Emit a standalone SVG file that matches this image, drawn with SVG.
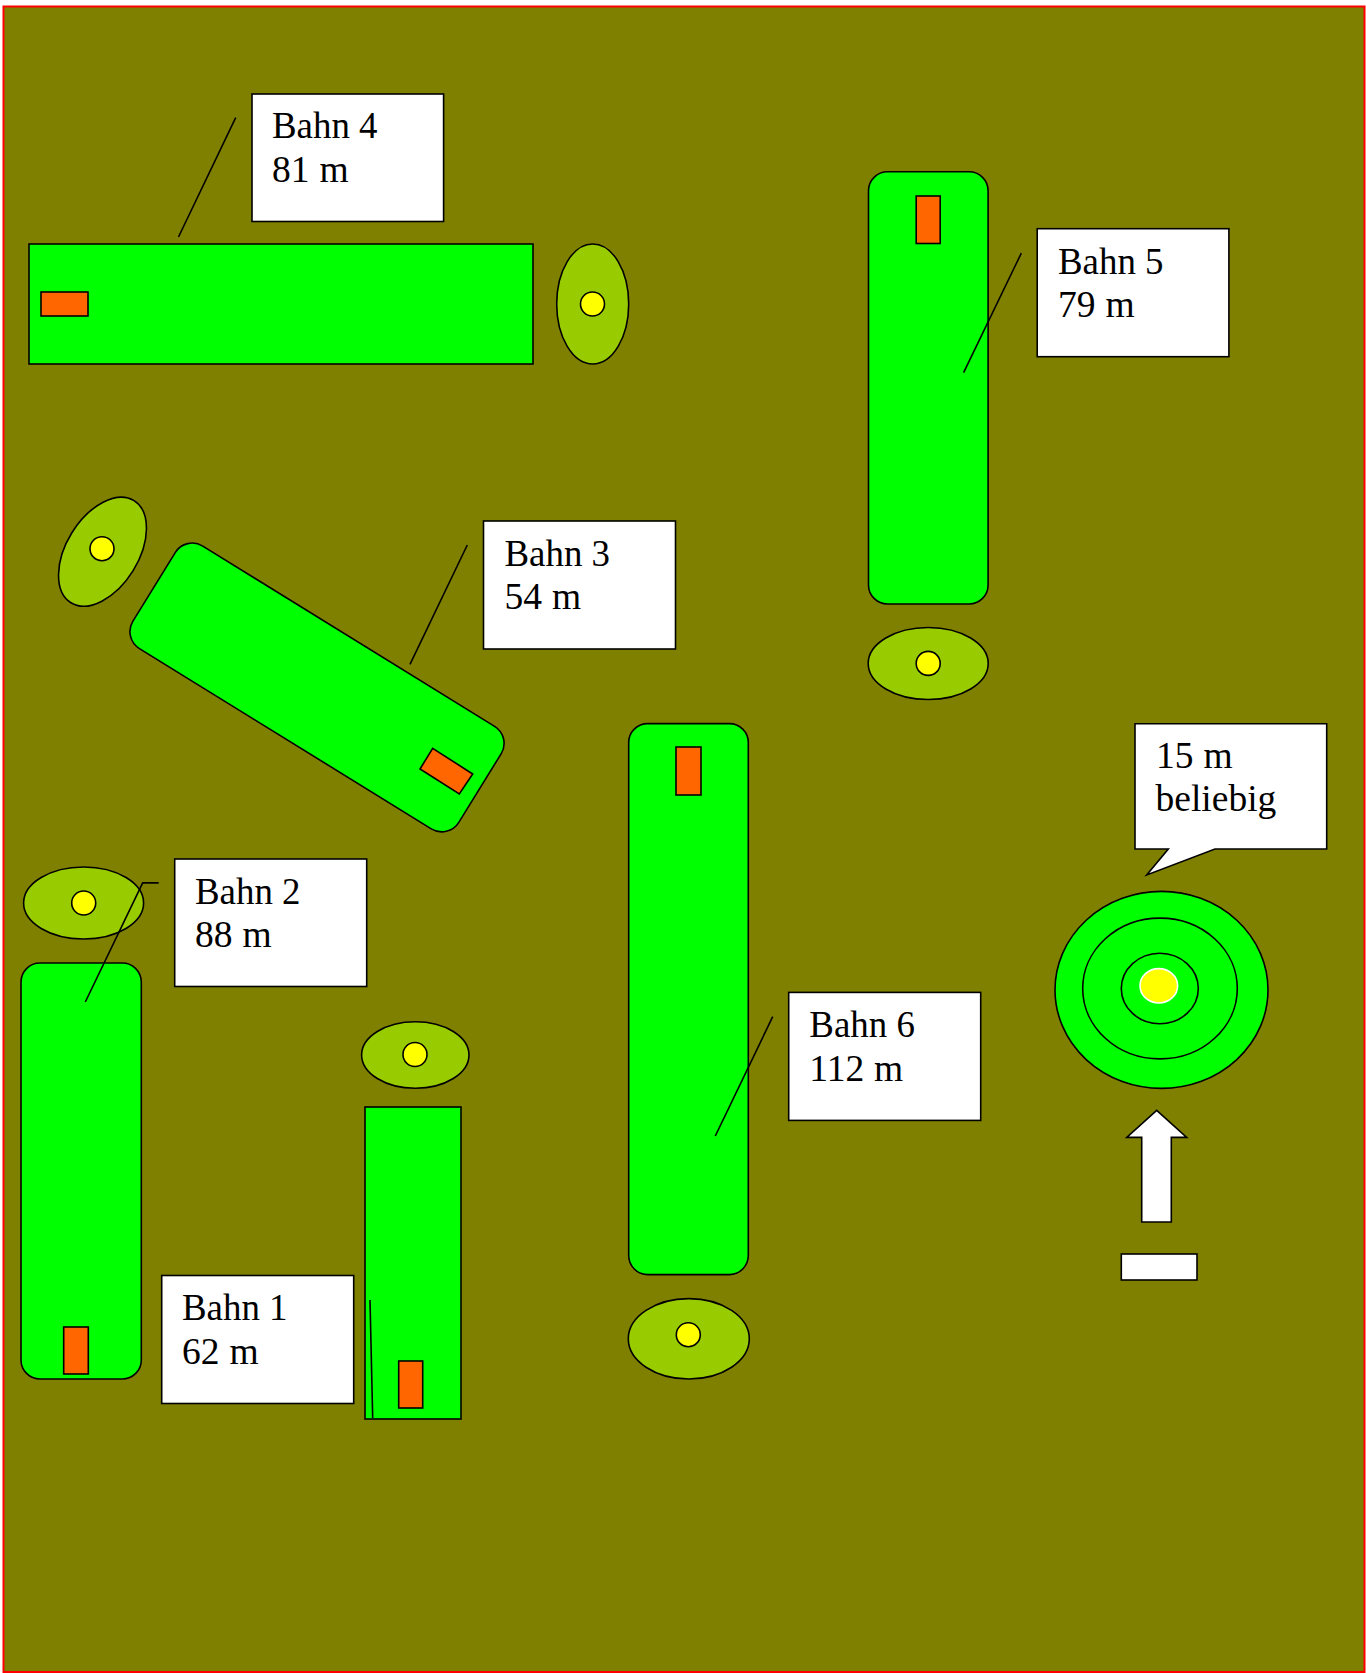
<svg xmlns="http://www.w3.org/2000/svg" width="1366" height="1673" viewBox="0 0 1366 1673">
<style>
.s{stroke:#000;stroke-width:1.6}
.g{fill:#0f0}.o{fill:#f60}.e{fill:#9c0}.y{fill:#ff0}.w{fill:#fff}
.l{fill:none;stroke:#000;stroke-width:1.6}
text{font-family:"Liberation Serif","Times New Roman",serif;font-size:37.5px;word-spacing:0.5px;fill:#000}
text.b{font-size:36.9px;word-spacing:0}
</style>
<rect width="1366" height="1673" fill="#fff"/>
<rect x="3.5" y="6.5" width="1361" height="1665.5" fill="#808000" stroke="#f00" stroke-width="2"/>
<g id="bahn4">
<rect class="s g" x="29" y="244" width="504" height="120"/>
<rect class="s o" x="41" y="292" width="47" height="24"/>
<ellipse class="s e" cx="592.7" cy="304" rx="36" ry="60"/>
<circle class="s y" cx="592.5" cy="304" r="12"/>
</g>
<g id="bahn5">
<rect class="s g" x="868.5" y="171.8" width="119.6" height="432.2" rx="19"/>
<rect class="s o" x="916.2" y="196" width="24" height="47.5"/>
<ellipse class="s e" cx="928.2" cy="663.5" rx="60" ry="36"/>
<circle class="s y" cx="928.2" cy="663.4" r="12"/>
</g>
<g id="bahn3">
<rect class="s g" x="125.5" y="627.2" width="383" height="120.5" rx="20" transform="rotate(31.7 317 687.5)"/>
<polygon class="s o" points="432.7,748.3 472.7,774 459.3,794 420,769"/>
<ellipse class="s e" cx="102.5" cy="551.7" rx="36" ry="60" transform="rotate(31.7 102.5 551.7)"/>
<circle class="s y" cx="102" cy="548.7" r="12"/>
</g>
<g id="bahn6">
<rect class="s g" x="628.7" y="723.6" width="119.6" height="551" rx="19"/>
<rect class="s o" x="676" y="747" width="25" height="48"/>
<ellipse class="s e" cx="688.8" cy="1338.8" rx="60.5" ry="40.2"/>
<circle class="s y" cx="688.3" cy="1334.7" r="12"/>
</g>
<g id="bahn2">
<rect class="s g" x="21" y="963" width="120.3" height="416" rx="19"/>
<rect class="s o" x="63.7" y="1327" width="24.6" height="47"/>
<ellipse class="s e" cx="83.6" cy="903" rx="60" ry="36"/>
<circle class="s y" cx="83.7" cy="903" r="12"/>
</g>
<g id="bahn1">
<rect class="s g" x="365" y="1107" width="96" height="312"/>
<rect class="s o" x="398.7" y="1361" width="24" height="47"/>
<ellipse class="s e" cx="415.3" cy="1055" rx="53.7" ry="33.3"/>
<circle class="s y" cx="415" cy="1054.5" r="12"/>
</g>
<g id="target">
<ellipse class="s g" cx="1161.5" cy="989.9" rx="106.5" ry="98.5"/>
<ellipse class="s g" cx="1160" cy="988.5" rx="77.3" ry="70.4"/>
<ellipse class="s g" cx="1159.8" cy="988.5" rx="38.5" ry="35.3"/>
<ellipse class="y" cx="1158.8" cy="985.8" rx="18.8" ry="17.2" stroke="#fff" stroke-width="1.6"/>
</g>
<g id="abschuss">
<polygon class="s w" points="1156.7,1110.3 1186.7,1137.4 1171.3,1137.4 1171.3,1222 1141.7,1222 1141.7,1137.4 1126.7,1137.4"/>
<rect class="s w" x="1121.3" y="1254" width="75.7" height="26"/>
</g>
<g id="connectors">
<path class="l" d="M235.7 117.7L178.5 237"/>
<path class="l" d="M1021.3 253.2L963.6 372.6"/>
<path class="l" d="M467.3 545L410 664.3"/>
<path class="l" d="M772.7 1016.7L715.3 1136"/>
<path class="l" d="M158.7 882.9H142.7L85.3 1002"/>
<path class="l" d="M370 1300L372.7 1418"/>
</g>
<g id="label4"><rect class="s w" x="252" y="94" width="191.6" height="127.5"/><text class="b" x="272" y="138">Bahn 4</text><text x="272" y="182">81 m</text></g>
<g id="label5"><rect class="s w" x="1037.2" y="228.7" width="191.7" height="128"/><text class="b" x="1058" y="274">Bahn 5</text><text x="1058" y="317">79 m</text></g>
<g id="label3"><rect class="s w" x="483.5" y="521" width="192" height="128"/><text class="b" x="504.5" y="566">Bahn 3</text><text x="504.5" y="609">54 m</text></g>
<g id="label6"><rect class="s w" x="788.7" y="992.4" width="192" height="128"/><text class="b" x="809.3" y="1037">Bahn 6</text><text x="809.3" y="1081">112 m</text></g>
<g id="label2"><rect class="s w" x="174.7" y="859" width="192" height="127.5"/><text class="b" x="195" y="904">Bahn 2</text><text x="195" y="947">88 m</text></g>
<g id="label1"><rect class="s w" x="161.7" y="1275.5" width="192" height="128"/><text class="b" x="182" y="1320">Bahn 1</text><text x="182" y="1364">62 m</text></g>
<g id="callout"><polygon class="s w" points="1135,723.7 1326.7,723.7 1326.7,849 1215,849 1146.7,875 1168.3,849 1135,849"/><text x="1156" y="768">15 m</text><text x="1155.5" y="811">beliebig</text></g>
</svg>
